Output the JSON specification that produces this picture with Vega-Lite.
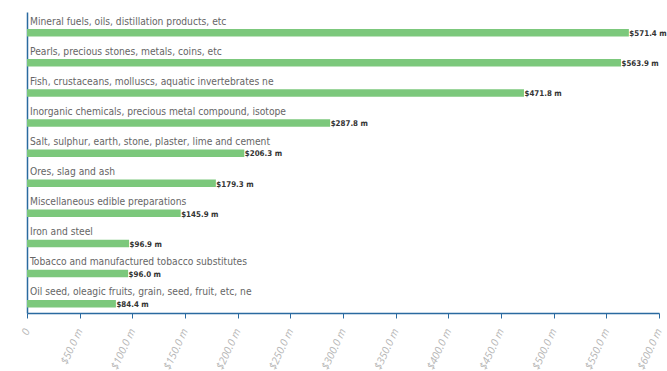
{
  "$schema": "https://vega.github.io/schema/vega-lite/v6.json",
  "width": 632,
  "height": 301,
  "autosize": {"type": "none"},
  "padding": {"left": 27, "top": 12, "right": 8, "bottom": 58},
  "background": "white",
  "config": {"view": {"stroke": null}},
  "data": {
    "values": [
      {"category": "Mineral fuels, oils, distillation products, etc", "value": 571.4, "label": "$571.4 m"},
      {"category": "Pearls, precious stones, metals, coins, etc", "value": 563.9, "label": "$563.9 m"},
      {"category": "Fish, crustaceans, molluscs, aquatic invertebrates ne", "value": 471.8, "label": "$471.8 m"},
      {"category": "Inorganic chemicals, precious metal compound, isotope", "value": 287.8, "label": "$287.8 m"},
      {"category": "Salt, sulphur, earth, stone, plaster, lime and cement", "value": 206.3, "label": "$206.3 m"},
      {"category": "Ores, slag and ash", "value": 179.3, "label": "$179.3 m"},
      {"category": "Miscellaneous edible preparations", "value": 145.9, "label": "$145.9 m"},
      {"category": "Iron and steel", "value": 96.9, "label": "$96.9 m"},
      {"category": "Tobacco and manufactured tobacco substitutes", "value": 96.0, "label": "$96.0 m"},
      {"category": "Oil seed, oleagic fruits, grain, seed, fruit, etc, ne", "value": 84.4, "label": "$84.4 m"}
    ]
  },
  "encoding": {
    "y": {
      "field": "category", "type": "nominal", "sort": null,
      "scale": {"paddingInner": 0, "paddingOuter": 0},
      "axis": {"labels": false, "ticks": false, "title": null, "domainColor": "#2a6aa0", "domainWidth": 1.5}
    }
  },
  "layer": [
    {
      "mark": {"type": "bar", "height": 7.5, "yOffset": 5.7, "color": "#7cc87c"},
      "encoding": {
        "x": {
          "field": "value", "type": "quantitative",
          "scale": {"domain": [0, 600], "nice": false},
          "axis": {
            "title": null, "grid": false,
            "values": [0, 50, 100, 150, 200, 250, 300, 350, 400, 450, 500, 550, 600],
            "labelExpr": "datum.value == 0 ? '0' : '$' + format(datum.value, '.1f') + ' m'",
            "labelAngle": -65, "labelAlign": "right", "labelBaseline": "middle", "labelPadding": 11,
            "labelColor": "#b4b4b4", "labelFont": "Open Sans", "labelFontStyle": "italic", "labelFontSize": 10.5,
            "domainColor": "#2a6aa0", "domainWidth": 1.5, "tickColor": "#2a6aa0", "tickSize": 5,
            "labelOverlap": false, "labelBound": false, "labelFlush": false
          }
        }
      }
    },
    {
      "mark": {"type": "text", "align": "left", "baseline": "alphabetic", "dx": 3, "dy": -2.5,
               "font": "DejaVu Sans Condensed", "fontSize": 10.2, "color": "#666666"},
      "encoding": {
        "x": {"datum": 0, "type": "quantitative"},
        "text": {"field": "category"}
      }
    },
    {
      "mark": {"type": "text", "align": "left", "baseline": "middle", "dx": 0.5, "yOffset": 7,
               "font": "DejaVu Sans Condensed", "fontWeight": "bold", "fontSize": 7.9, "color": "#333333"},
      "encoding": {
        "x": {"field": "value", "type": "quantitative"},
        "text": {"field": "label"}
      }
    }
  ]
}
